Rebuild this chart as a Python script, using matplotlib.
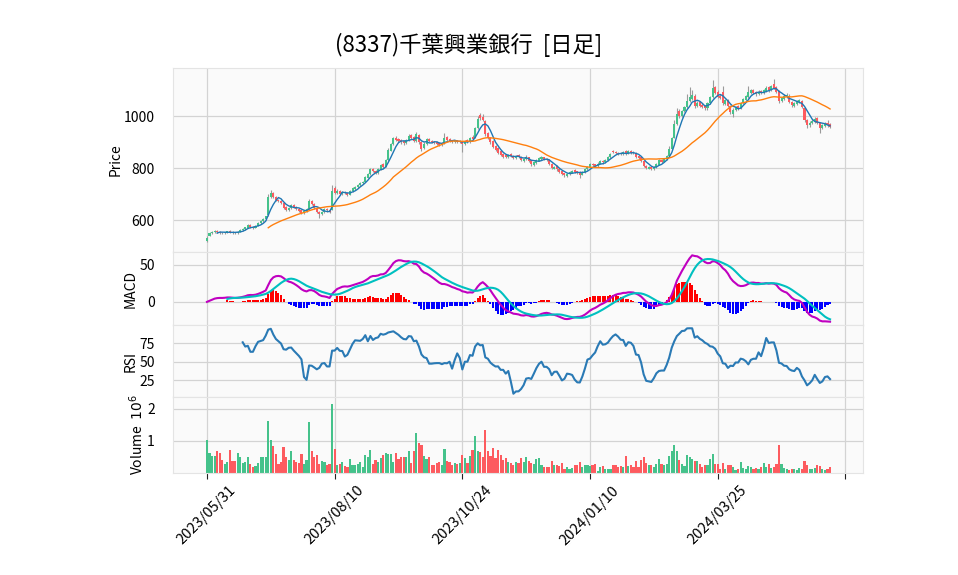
import numpy as np
import pandas as pd
import matplotlib
matplotlib.use("Agg")
import matplotlib.pyplot as plt

plt.rcParams['font.family'] = ['Noto Sans CJK JP', 'DejaVu Sans']

# chart texts
title = "(8337)千葉興業銀行  [日足]"
tick_pos = [0, 50, 100, 150, 200, 250]
tick_labels = ["2023/05/31", "2023/08/10", "2023/10/24", "2024/01/10", "2024/03/25", ""]

# daily prices (yen)
open_ = [518, 540, 549, 553, 559, 555, 552, 549, 552, 558,
         554, 552, 550, 556, 561, 566, 571, 581, 575, 570,
         578, 588, 596, 604, 618, 690, 704, 690, 678, 673,
         666, 650, 638, 646, 658, 651, 644, 638, 627, 634,
         642, 674, 662, 648, 632, 622, 632, 643, 638, 640,
         722, 705, 712, 700, 709, 704, 698, 712, 720, 728,
         734, 742, 748, 764, 777, 797, 790, 782, 795, 815,
         806, 832, 868, 895, 918, 912, 908, 903, 897, 908,
         927, 920, 905, 928, 902, 878, 895, 914, 906, 902,
         899, 896, 890, 897, 920, 912, 907, 899, 907, 900,
         902, 892, 907, 900, 922, 918, 955, 1005, 998, 982,
         935, 918, 905, 885, 878, 865, 855, 850, 842, 855,
         848, 840, 850, 845, 828, 835, 842, 830, 812, 821,
         829, 836, 842, 837, 832, 816, 798, 808, 796, 788,
         780, 770, 778, 783, 792, 788, 786, 775, 785, 795,
         804, 818, 815, 808, 818, 828, 822, 832, 844, 868,
         864, 860, 858, 853, 868, 856, 866, 862, 860, 846,
         842, 826, 810, 798, 806, 797, 805, 814, 832, 825,
         835, 848, 875, 918, 972, 1020, 1000, 1020, 1035, 1060,
         1068, 1080, 1040, 1055, 1045, 1040, 1030, 1050, 1075, 1112,
         1095, 1080, 1095, 1048, 1062, 1040, 1010, 1024, 1040, 1030,
         1050, 1062, 1075, 1090, 1102, 1094, 1085, 1098, 1088, 1098,
         1112, 1100, 1125, 1112, 1098, 1058, 1068, 1075, 1080, 1056,
         1040, 1048, 1055, 1060, 1030, 985, 965, 974, 980, 992,
         975, 955, 964, 975, 970]
high = [538, 553, 559, 561, 562, 558, 555, 556, 560, 561,
        557, 555, 559, 565, 569, 575, 584, 585, 577, 581,
        591, 599, 607, 617, 700, 716, 710, 694, 683, 677,
        668, 654, 652, 664, 662, 655, 648, 641, 638, 646,
        682, 678, 665, 651, 635, 636, 646, 647, 641, 735,
        730, 718, 715, 712, 712, 707, 716, 726, 732, 739,
        746, 752, 770, 782, 800, 801, 793, 799, 817, 819,
        835, 876, 898, 920, 924, 916, 912, 907, 914, 932,
        931, 924, 940, 932, 905, 899, 917, 918, 910, 906,
        903, 900, 902, 935, 924, 915, 910, 910, 910, 909,
        906, 909, 911, 922, 926, 960, 1000, 1012, 1008, 985,
        940, 922, 908, 889, 882, 868, 858, 853, 856, 858,
        851, 852, 853, 848, 840, 849, 845, 833, 826, 834,
        842, 846, 845, 840, 835, 819, 810, 811, 799, 791,
        783, 782, 788, 794, 795, 791, 789, 789, 799, 810,
        819, 821, 818, 822, 830, 831, 834, 848, 859, 871,
        867, 863, 861, 866, 872, 869, 869, 865, 863, 849,
        845, 829, 813, 810, 809, 809, 819, 834, 835, 839,
        852, 885, 920, 985, 1030, 1028, 1025, 1040, 1085, 1112,
        1100, 1085, 1058, 1060, 1050, 1044, 1055, 1080, 1140, 1118,
        1100, 1086, 1118, 1068, 1066, 1044, 1030, 1040, 1044, 1055,
        1070, 1083, 1115, 1106, 1106, 1098, 1100, 1102, 1105, 1116,
        1116, 1122, 1145, 1118, 1102, 1076, 1084, 1088, 1084, 1060,
        1055, 1063, 1068, 1064, 1034, 990, 980, 988, 996, 996,
        979, 970, 978, 985, 975]
low = [515, 538, 546, 550, 551, 548, 546, 547, 550, 550,
       548, 547, 548, 553, 558, 563, 569, 571, 566, 568,
       576, 585, 593, 601, 615, 686, 686, 672, 668, 661,
       643, 635, 634, 643, 646, 639, 632, 622, 624, 631,
       640, 658, 643, 626, 610, 618, 628, 633, 626, 638,
       700, 701, 697, 697, 699, 694, 695, 709, 717, 725,
       731, 739, 745, 761, 774, 784, 777, 779, 792, 801,
       803, 829, 865, 891, 905, 900, 895, 891, 894, 905,
       913, 900, 902, 895, 865, 874, 891, 901, 896, 893,
       889, 886, 887, 894, 906, 901, 896, 896, 897, 897,
       862, 889, 896, 897, 908, 915, 952, 985, 980, 925,
       912, 895, 876, 868, 856, 846, 841, 838, 839, 842,
       836, 837, 839, 826, 825, 832, 824, 808, 809, 818,
       826, 833, 832, 826, 811, 796, 795, 791, 781, 774,
       766, 767, 775, 780, 782, 778, 762, 772, 782, 792,
       801, 808, 804, 805, 815, 818, 819, 829, 841, 858,
       854, 852, 849, 850, 851, 853, 856, 854, 841, 836,
       824, 804, 796, 795, 794, 794, 802, 811, 821, 822,
       832, 845, 872, 915, 968, 995, 996, 1016, 1030, 1055,
       1064, 1030, 1035, 1035, 1030, 1025, 1026, 1046, 1070, 1085,
       1070, 1065, 1045, 1044, 1035, 1010, 998, 1020, 1026, 1027,
       1046, 1058, 1072, 1086, 1085, 1080, 1082, 1084, 1085, 1095,
       1095, 1097, 1105, 1090, 1052, 1054, 1064, 1071, 1050, 1037,
       1036, 1044, 1051, 1030, 978, 955, 960, 970, 976, 970,
       935, 950, 960, 960, 955]
close = [532, 550, 556, 558, 554, 551, 549, 553, 557, 553,
         551, 550, 556, 562, 567, 572, 580, 574, 570, 578,
         588, 596, 604, 614, 690, 705, 690, 678, 672, 666,
         648, 640, 648, 658, 650, 643, 636, 627, 634, 642,
         675, 662, 648, 632, 622, 632, 642, 638, 630, 712,
         705, 712, 702, 708, 703, 698, 712, 722, 728, 735,
         742, 748, 765, 778, 795, 788, 782, 795, 812, 805,
         830, 870, 892, 915, 910, 905, 900, 897, 910, 925,
         918, 905, 930, 900, 875, 895, 912, 905, 900, 897,
         893, 890, 898, 918, 910, 905, 900, 906, 901, 905,
         892, 905, 900, 918, 912, 955, 990, 992, 985, 930,
         918, 900, 880, 872, 860, 850, 845, 842, 852, 846,
         840, 848, 842, 830, 836, 845, 828, 815, 822, 830,
         838, 842, 836, 830, 815, 800, 806, 795, 785, 778,
         772, 778, 784, 790, 786, 782, 775, 785, 795, 806,
         815, 812, 808, 818, 826, 822, 830, 845, 855, 862,
         858, 856, 853, 862, 855, 865, 860, 858, 845, 840,
         828, 808, 800, 806, 798, 805, 815, 830, 825, 835,
         848, 875, 915, 970, 1010, 1000, 1020, 1035, 1060, 1075,
         1082, 1040, 1052, 1040, 1035, 1030, 1050, 1075, 1110, 1090,
         1075, 1070, 1050, 1062, 1040, 1015, 1025, 1035, 1030, 1050,
         1065, 1078, 1095, 1100, 1090, 1085, 1095, 1088, 1100, 1110,
         1100, 1115, 1110, 1095, 1060, 1070, 1078, 1082, 1055, 1042,
         1050, 1058, 1062, 1035, 985, 968, 975, 982, 990, 975,
         955, 965, 972, 965, 960]
# volume in units of 10^6 shares
volume_m = [1.02, 0.61, 0.54, 0.54, 0.67, 0.62, 0.40, 0.27, 0.34, 0.73,
            0.38, 0.38, 0.61, 0.51, 0.32, 0.35, 0.51, 0.29, 0.18, 0.22,
            0.30, 0.51, 0.51, 0.51, 1.63, 1.02, 0.83, 0.59, 0.29, 0.34,
            0.81, 0.51, 0.41, 0.67, 0.41, 0.34, 0.32, 0.59, 0.27, 0.40,
            1.58, 0.67, 0.51, 0.57, 0.29, 0.38, 0.35, 0.24, 0.27, 2.15,
            0.75, 0.25, 0.29, 0.34, 0.22, 0.18, 0.45, 0.25, 0.25, 0.29,
            0.34, 0.18, 0.57, 0.51, 0.73, 0.29, 0.40, 0.34, 0.46, 0.57,
            0.63, 0.59, 0.59, 0.34, 0.61, 0.43, 0.51, 0.51, 0.51, 0.67,
            0.32, 0.70, 1.24, 0.94, 0.88, 0.54, 0.43, 0.51, 0.25, 0.25,
            0.32, 0.34, 0.25, 0.75, 0.38, 0.34, 0.25, 0.30, 0.28, 0.32,
            0.57, 0.46, 0.30, 0.54, 0.73, 1.15, 0.67, 0.65, 0.51, 1.34,
            0.70, 0.54, 0.78, 0.48, 0.73, 0.57, 0.40, 0.48, 0.34, 0.30,
            0.25, 0.34, 0.32, 0.46, 0.34, 0.51, 0.38, 0.32, 0.29, 0.43,
            0.46, 0.25, 0.20, 0.18, 0.18, 0.38, 0.25, 0.25, 0.22, 0.30,
            0.14, 0.18, 0.13, 0.16, 0.25, 0.25, 0.34, 0.18, 0.24, 0.25,
            0.22, 0.25, 0.29, 0.05, 0.18, 0.22, 0.14, 0.14, 0.14, 0.25,
            0.25, 0.18, 0.22, 0.18, 0.54, 0.22, 0.25, 0.18, 0.38, 0.18,
            0.41, 0.51, 0.30, 0.25, 0.25, 0.18, 0.29, 0.43, 0.27, 0.25,
            0.29, 0.54, 0.67, 0.86, 0.67, 0.41, 0.29, 0.22, 0.57, 0.51,
            0.45, 0.38, 0.38, 0.29, 0.18, 0.25, 0.25, 0.43, 0.59, 0.27,
            0.27, 0.14, 0.30, 0.14, 0.25, 0.24, 0.18, 0.08, 0.14, 0.34,
            0.16, 0.14, 0.22, 0.18, 0.13, 0.16, 0.11, 0.18, 0.30, 0.18,
            0.29, 0.16, 0.18, 0.29, 0.86, 0.29, 0.15, 0.13, 0.09, 0.11,
            0.11, 0.09, 0.16, 0.14, 0.38, 0.25, 0.11, 0.11, 0.16, 0.25,
            0.22, 0.14, 0.09, 0.11, 0.18]

df = pd.DataFrame({"open": open_, "high": high, "low": low,
                   "close": close, "volume": volume_m})
x = np.arange(len(df))

# indicators
ma5 = df.close.rolling(5).mean()
ma25 = df.close.rolling(25).mean()
ema12 = df.close.ewm(span=12, adjust=False).mean()
ema26 = df.close.ewm(span=26, adjust=False).mean()
macd = ema12 - ema26
signal = macd.rolling(9).mean()
hist = macd - signal
delta = df.close.diff()
gain = delta.clip(lower=0).rolling(14).mean()
loss = (-delta.clip(upper=0)).rolling(14).mean()
rsi = 100 * gain / (gain + loss)

up_col = "#45c28b"
down_col = "#fd5b5f"
colors = np.where(df.close >= df.open, up_col, down_col)

fig = plt.figure(figsize=(9.58, 5.75), dpi=100)
left, width = 173 / 958, 690 / 958
ax_p = fig.add_axes([left, 1 - 252 / 575, width, 184 / 575])
ax_m = fig.add_axes([left, 1 - 325 / 575, width, 73 / 575], sharex=ax_p)
ax_r = fig.add_axes([left, 1 - 397 / 575, width, 72 / 575], sharex=ax_p)
ax_v = fig.add_axes([left, 1 - 473 / 575, width, 76 / 575], sharex=ax_p)

for ax in (ax_p, ax_m, ax_r, ax_v):
    ax.set_facecolor("#fafafa")
    ax.grid(True, color="#d3d3d3", lw=0.9)
    ax.set_axisbelow(True)
    for s in ax.spines.values():
        s.set_color("#e4e4e4")
    ax.tick_params(axis="y", length=0, labelsize=10, pad=13)
    ax.tick_params(axis="x", length=0, labelbottom=False)

# candles
ax_p.vlines(x, df.low, df.high, color="#9a9a9a", lw=0.8, zorder=2)
body = (df.close - df.open).abs().clip(lower=0.8)
ax_p.bar(x, body, bottom=np.minimum(df.open, df.close), width=0.8,
         color=colors, zorder=3)
ax_p.plot(x, ma5, color="#1f77b4", lw=1.0, zorder=4)
ax_p.plot(x, ma25, color="#ff7f0e", lw=1.0, zorder=4)
rng = df.high.max() - df.low.min()
ax_p.set_ylim(df.low.min() - 0.06 * rng, df.high.max() + 0.065 * rng)
ax_p.set_yticks([600, 800, 1000])
ax_p.set_ylabel("Price", fontsize=10, labelpad=1)

# MACD
ax_m.bar(x, hist, width=0.8, color=np.where(hist >= 0, "#ff0000", "#0000ff"))
ax_m.plot(x, macd, color="#c000c0", lw=1.5)
ax_m.plot(x, signal, color="#00c0c0", lw=1.5)
ax_m.set_yticks([0, 50])
ax_m.set_ylabel("MACD", fontsize=10, labelpad=1)

# RSI
ax_r.plot(x, rsi, color="#2a7ab5", lw=1.5)
ax_r.set_yticks([25, 50, 75])
ax_r.set_ylabel("RSI", fontsize=10, labelpad=1)

# volume
ax_v.bar(x, df.volume, width=0.85, color=colors)
ax_v.set_ylim(0, df.volume.max() * 1.1)
ax_v.set_yticks([1, 2])
ax_v.set_ylabel("Volume  $10^{6}$", fontsize=10, labelpad=1)

ax_v.set_xlim(-13.3, 256.9)
ax_v.set_xticks(tick_pos)
ax_v.set_xticklabels(tick_labels, rotation=45, fontsize=10.5)
ax_v.tick_params(axis="x", length=4, labelbottom=True, color="#222222")

fig.text(469 / 958, 1 - 45 / 575, title, ha="center", va="center", fontsize=16)

fig.savefig("out.png", dpi=100)
